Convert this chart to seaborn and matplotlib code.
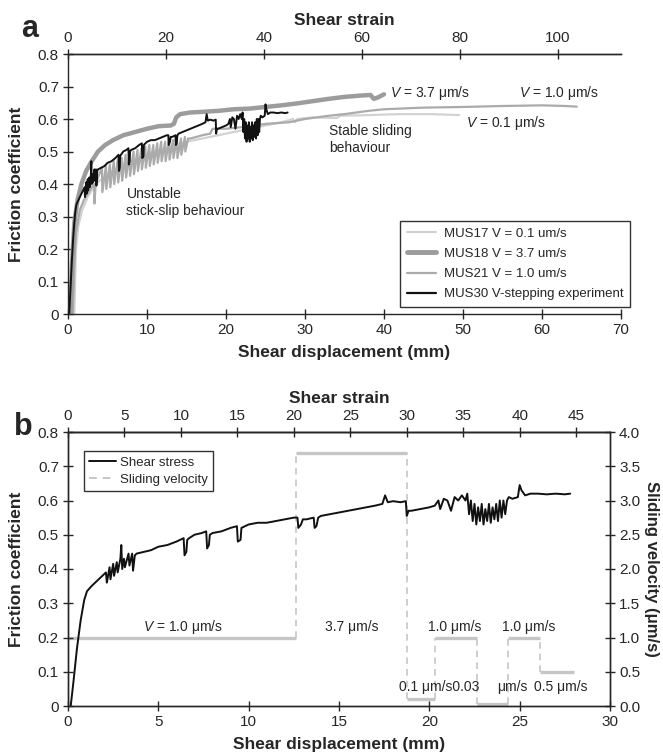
import matplotlib
matplotlib.use("Agg")
import matplotlib.pyplot as plt
from matplotlib.lines import Line2D
import seaborn as sns
import pandas as pd

sns.set_style("ticks")
plt.rcParams["font.family"] = ["Liberation Sans", "DejaVu Sans"]
plt.rcParams["mathtext.fontset"] = "custom"
plt.rcParams["mathtext.it"] = "Liberation Sans:italic"
plt.rcParams["mathtext.rm"] = "Liberation Sans"
plt.rcParams["axes.linewidth"] = 1.0

# ---------------- data ----------------
# MUS30 V-stepping experiment (shear displacement mm, friction coefficient)
mus30_x = [0.15, 0.3, 0.5, 0.7, 0.9, 1.05, 1.3, 1.6, 1.9, 2.1, 2.15, 2.3, 2.35, 2.5, 2.55,
           2.7, 2.75, 2.9, 2.95, 3.0, 3.1, 3.15, 3.35, 3.4, 3.55, 3.6, 3.7, 3.8, 4.2, 4.6,
           5.0, 5.5, 6.0, 6.4, 6.45, 6.55, 6.6, 6.7, 7.0, 7.4, 7.65, 7.7, 7.8, 7.85, 8.0,
           8.5, 9.0, 9.35, 9.4, 9.55, 9.6, 10.0, 10.5, 11.0, 11.5, 12.0, 12.5, 12.7, 12.75,
           12.9, 13.0, 13.2, 13.6, 13.65, 13.75, 13.85, 14.0, 14.5, 15.0, 15.5, 16.0, 16.5,
           17.0, 17.4, 17.55, 17.7, 18.0, 18.4, 18.7, 18.75, 18.85, 19.0, 19.5, 20.0, 20.3,
           20.5, 20.6, 20.8, 21.0, 21.2, 21.4, 21.6, 21.8, 22.0, 22.1, 22.2, 22.3, 22.4,
           22.5, 22.6, 22.7, 22.8, 22.9, 23.0, 23.1, 23.2, 23.3, 23.4, 23.5, 23.6, 23.7,
           23.8, 23.9, 24.0, 24.1, 24.2, 24.3, 24.4, 24.6, 24.9, 25.0, 25.1, 25.3, 25.6,
           26.0, 26.5, 27.0, 27.5, 27.8]
mus30_y = [0.0, 0.07, 0.17, 0.25, 0.31, 0.335, 0.35, 0.365, 0.38, 0.39, 0.36, 0.405, 0.37, 0.415, 0.38,
           0.42, 0.39, 0.43, 0.47, 0.40, 0.43, 0.405, 0.445, 0.41, 0.445, 0.395, 0.44, 0.445, 0.45, 0.455,
           0.465, 0.47, 0.48, 0.49, 0.44, 0.45, 0.485, 0.49, 0.50, 0.505, 0.51, 0.46, 0.47, 0.50, 0.505,
           0.51, 0.52, 0.525, 0.48, 0.485, 0.52, 0.53, 0.535, 0.535, 0.54, 0.545, 0.55, 0.55, 0.52,
           0.53, 0.545, 0.545, 0.55, 0.52, 0.525, 0.55, 0.555, 0.56, 0.565, 0.57, 0.575, 0.58,
           0.585, 0.59, 0.615, 0.595, 0.598, 0.595, 0.598, 0.555, 0.57, 0.57, 0.575, 0.58, 0.585,
           0.60, 0.575, 0.605, 0.60, 0.57, 0.61, 0.60, 0.615, 0.60, 0.62, 0.56, 0.60, 0.54,
           0.59, 0.53, 0.58, 0.54, 0.59, 0.53, 0.575, 0.54, 0.59, 0.535, 0.58, 0.545, 0.59,
           0.54, 0.60, 0.55, 0.60, 0.56, 0.60, 0.61, 0.605, 0.61, 0.645, 0.63, 0.615, 0.62,
           0.62, 0.618, 0.62, 0.618, 0.62]

# MUS17 V = 0.1 um/s
mus17_x = [0.8, 0.9, 1.0, 1.3, 1.8, 2.5, 3.5, 5, 7, 9, 11, 13, 15, 17, 19, 21, 23, 25, 27,
           28.5, 28.7, 29, 31, 34, 34.5, 38, 42, 46, 49.5]
mus17_y = [0.0, 0.1, 0.2, 0.27, 0.32, 0.36, 0.40, 0.43, 0.46, 0.48, 0.50, 0.515, 0.53, 0.54,
           0.55, 0.56, 0.57, 0.58, 0.59, 0.60, 0.59, 0.60, 0.605, 0.603, 0.61, 0.612, 0.615,
           0.615, 0.612]

# MUS18 V = 3.7 um/s
mus18_x = [0.3, 0.5, 0.8, 1.2, 1.7, 2.3, 3.0, 3.8, 4.7, 5.7, 7.0, 8.5, 10, 11.5, 13, 13.4,
           13.7, 14.2, 15.5, 17, 19, 21, 23, 25, 27, 29, 31, 33, 35, 37, 38.3, 38.7, 39.2, 40]
mus18_y = [0.0, 0.15, 0.28, 0.35, 0.40, 0.44, 0.47, 0.50, 0.52, 0.535, 0.55, 0.56, 0.57,
           0.578, 0.58, 0.585, 0.605, 0.615, 0.62, 0.622, 0.625, 0.63, 0.632, 0.637, 0.642,
           0.648, 0.655, 0.662, 0.668, 0.672, 0.674, 0.662, 0.666, 0.676]

# MUS21 V = 1.0 um/s
mus21_x = [0.6, 0.8, 1.0, 1.5, 2.0, 2.5, 3.0, 3.3, 3.35, 3.5, 3.8, 4.3, 4.35, 4.8, 4.85, 5.3,
           5.35, 5.8, 5.85, 6.3, 6.35, 6.8, 6.85, 7.3, 7.35, 7.8, 7.85, 8.3, 8.35, 8.8, 8.85,
           9.3, 9.35, 9.8, 9.85, 10.3, 10.35, 10.8, 10.85, 11.3, 11.35, 11.8, 11.85, 12.3,
           12.35, 12.8, 12.85, 13.3, 13.35, 13.8, 13.85, 14.3, 14.35, 14.8, 14.85, 15.2,
           15.5, 17, 18, 18.3, 20, 22, 25, 28, 30, 33, 35, 38, 40, 45, 50, 55, 60, 63, 64.4]
mus21_y = [0.0, 0.15, 0.25, 0.32, 0.35, 0.37, 0.39, 0.40, 0.34, 0.40, 0.42, 0.45, 0.375,
           0.455, 0.385, 0.46, 0.39, 0.47, 0.40, 0.475, 0.405, 0.48, 0.41, 0.49, 0.42, 0.495,
           0.425, 0.50, 0.43, 0.505, 0.44, 0.51, 0.445, 0.515, 0.45, 0.52, 0.455, 0.52, 0.46,
           0.525, 0.465, 0.53, 0.47, 0.53, 0.47, 0.535, 0.475, 0.535, 0.48, 0.54, 0.48, 0.54,
           0.49, 0.545, 0.50, 0.54, 0.54, 0.55, 0.555, 0.57, 0.57, 0.575, 0.585, 0.59, 0.60,
           0.61, 0.615, 0.625, 0.63, 0.635, 0.637, 0.64, 0.642, 0.64, 0.638]

# Velocity steps (panel b)
vel_start = [0.0, 12.6, 18.75, 20.3, 22.65, 24.35, 26.1]
vel_end = [12.6, 18.75, 20.3, 22.65, 24.35, 26.1, 28.0]
vel_value = [1.0, 3.7, 0.1, 1.0, 0.03, 1.0, 0.5]

legend_a = ["MUS17 V = 0.1 um/s", "MUS18 V = 3.7 um/s", "MUS21 V = 1.0 um/s",
            "MUS30 V-stepping experiment"]

STRAIN_A = 1.613
STRAIN_B = 1.6

TICK = 11
LAB = 12.5

c17, c18, c21 = "#d2d2d2", "#9c9c9c", "#ababab"

fig = plt.figure(figsize=(6.63, 7.55), dpi=100)
W, H = 663, 755
ax_a = fig.add_axes([68 / W, 1 - 314 / H, (621 - 68) / W, (314 - 54) / H])
ax_b = fig.add_axes([68 / W, 1 - 706 / H, (610 - 68) / W, (706 - 432) / H])

# ---------------- panel a ----------------
d17 = pd.DataFrame({"x": mus17_x, "y": mus17_y})
d18 = pd.DataFrame({"x": mus18_x, "y": mus18_y})
d21 = pd.DataFrame({"x": mus21_x, "y": mus21_y})
d30 = pd.DataFrame({"x": mus30_x, "y": mus30_y})

sns.lineplot(data=d17, x="x", y="y", ax=ax_a, color=c17, lw=1.6, sort=False, estimator=None)
sns.lineplot(data=d21, x="x", y="y", ax=ax_a, color=c21, lw=1.6, sort=False, estimator=None)
sns.lineplot(data=d18, x="x", y="y", ax=ax_a, color=c18, lw=3.2, sort=False, estimator=None)
sns.lineplot(data=d30, x="x", y="y", ax=ax_a, color="#111111", lw=1.4, sort=False, estimator=None)

ax_a.set_xlim(0, 70)
ax_a.set_ylim(0, 0.8)
ax_a.set_xticks(range(0, 71, 10))
yt = [i / 10 for i in range(9)]
ax_a.set_yticks(yt)
ax_a.set_yticklabels(["0"] + [f"{v:.1f}" for v in yt[1:]])
ax_a.spines["right"].set_visible(False)
ax_a.tick_params(direction="inout", length=7, width=1, labelsize=TICK, pad=3)
ax_a.set_xlabel("Shear displacement (mm)", fontsize=LAB, fontweight="bold", labelpad=6)
ax_a.set_ylabel("Friction coefficient", fontsize=LAB, fontweight="bold", labelpad=10)

sec_a = ax_a.secondary_xaxis("top", functions=(lambda x: x * STRAIN_A, lambda s: s / STRAIN_A))
sec_a.set_xticks(range(0, 101, 20))
sec_a.tick_params(direction="inout", length=7, width=1, labelsize=TICK, pad=3)
sec_a.set_xlabel("Shear strain", fontsize=LAB, fontweight="bold", labelpad=4)

ax_a.text(33.0, 0.537, "Stable sliding\nbehaviour", fontsize=10, ha="left", va="center",
          linespacing=1.3)
ax_a.text(7.4, 0.343, "Unstable\nstick-slip behaviour", fontsize=10, ha="left", va="center",
          linespacing=1.3)
ax_a.text(45.8, 0.68, "$V$ = 3.7 μm/s", fontsize=10, ha="center", va="center")
ax_a.text(62.2, 0.68, "$V$ = 1.0 μm/s", fontsize=10, ha="center", va="center")
ax_a.text(55.4, 0.589, "$V$ = 0.1 μm/s", fontsize=10, ha="center", va="center")

handles_a = [Line2D([], [], color=c17, lw=1.6), Line2D([], [], color=c18, lw=3.5),
             Line2D([], [], color=c21, lw=1.6), Line2D([], [], color="#111111", lw=1.6)]
leg = ax_a.legend(handles_a, legend_a, loc="upper left",
                  bbox_to_anchor=(400 / W, 1 - 221 / H), bbox_transform=fig.transFigure,
                  fontsize=9.5, frameon=True, fancybox=False, edgecolor="black",
                  handlelength=2.2, handletextpad=0.6, borderpad=0.5, labelspacing=0.6,
                  borderaxespad=0)
leg.get_frame().set_linewidth(1.0)

fig.text(30 / W, 1 - 29 / H, "a", fontsize=22, fontweight="bold", ha="center", va="center")

# ---------------- panel b ----------------
sns.lineplot(data=d30, x="x", y="y", ax=ax_b, color="#111111", lw=1.4, sort=False, estimator=None)
ax_b.set_xlim(0, 30)
ax_b.set_ylim(0, 0.8)
ax_b.set_xticks(range(0, 31, 5))
ax_b.set_yticks(yt)
ax_b.set_yticklabels(["0"] + [f"{v:.1f}" for v in yt[1:]])
ax_b.tick_params(direction="inout", length=7, width=1, labelsize=TICK, pad=3)
ax_b.set_xlabel("Shear displacement (mm)", fontsize=LAB, fontweight="bold", labelpad=6)
ax_b.set_ylabel("Friction coefficient", fontsize=LAB, fontweight="bold", labelpad=10)

ax_v = ax_b.twinx()
vcol = "#c6c6c6"
ax_v.hlines(vel_value, vel_start, vel_end, color=vcol, lw=2.4)
ax_v.vlines(vel_end[:-1], [min(a, b) for a, b in zip(vel_value[:-1], vel_value[1:])],
            [max(a, b) for a, b in zip(vel_value[:-1], vel_value[1:])],
            color=vcol, lw=1.2, linestyles=(0, (4, 3)))
ax_v.set_ylim(0, 4)
ax_v.set_yticks([0, 0.5, 1, 1.5, 2, 2.5, 3, 3.5, 4])
ax_v.set_yticklabels([f"{v:.1f}" for v in [0, 0.5, 1, 1.5, 2, 2.5, 3, 3.5, 4]])
ax_v.tick_params(direction="inout", length=7, width=1, labelsize=TICK, pad=3)
ax_v.set_ylabel("Sliding velocity (μm/s)", fontsize=12, fontweight="bold", rotation=270,
                va="bottom", labelpad=3)
ax_b.set_zorder(ax_v.get_zorder() + 1)
ax_b.patch.set_visible(False)

sec_b = ax_b.secondary_xaxis("top", functions=(lambda x: x * STRAIN_B, lambda s: s / STRAIN_B))
sec_b.set_xticks(range(0, 46, 5))
sec_b.tick_params(direction="inout", length=7, width=1, labelsize=TICK, pad=3)
sec_b.set_xlabel("Shear strain", fontsize=LAB, fontweight="bold", labelpad=4)

fs = 10
ax_b.text(6.37, 0.23, "$V$ = 1.0 μm/s", fontsize=fs, ha="center", va="center")
ax_b.text(15.7, 0.23, "3.7 μm/s", fontsize=fs, ha="center", va="center")
ax_b.text(21.4, 0.23, "1.0 μm/s", fontsize=fs, ha="center", va="center")
ax_b.text(25.5, 0.23, "1.0 μm/s", fontsize=fs, ha="center", va="center")
ax_b.text(20.57, 0.055, "0.1 μm/s0.03", fontsize=fs, ha="center", va="center")
ax_b.text(24.6, 0.055, "μm/s", fontsize=fs, ha="center", va="center")
ax_b.text(27.3, 0.055, "0.5 μm/s", fontsize=fs, ha="center", va="center")

handles_b = [Line2D([], [], color="#111111", lw=1.4),
             Line2D([], [], color=vcol, lw=1.4, ls=(0, (4, 3)))]
legb = ax_b.legend(handles_b, ["Shear stress", "Sliding velocity"], loc="upper left",
                   bbox_to_anchor=(84 / W, 1 - 451 / H), bbox_transform=fig.transFigure,
                   fontsize=9.5, frameon=True, fancybox=False, edgecolor="black",
                   handlelength=2.0, handletextpad=0.3, borderpad=0.4, labelspacing=0.4,
                   borderaxespad=0)
legb.get_frame().set_linewidth(1.0)

fig.text(23 / W, 1 - 427 / H, "b", fontsize=22, fontweight="bold", ha="center", va="center")

fig.savefig("out.png", dpi=100)
